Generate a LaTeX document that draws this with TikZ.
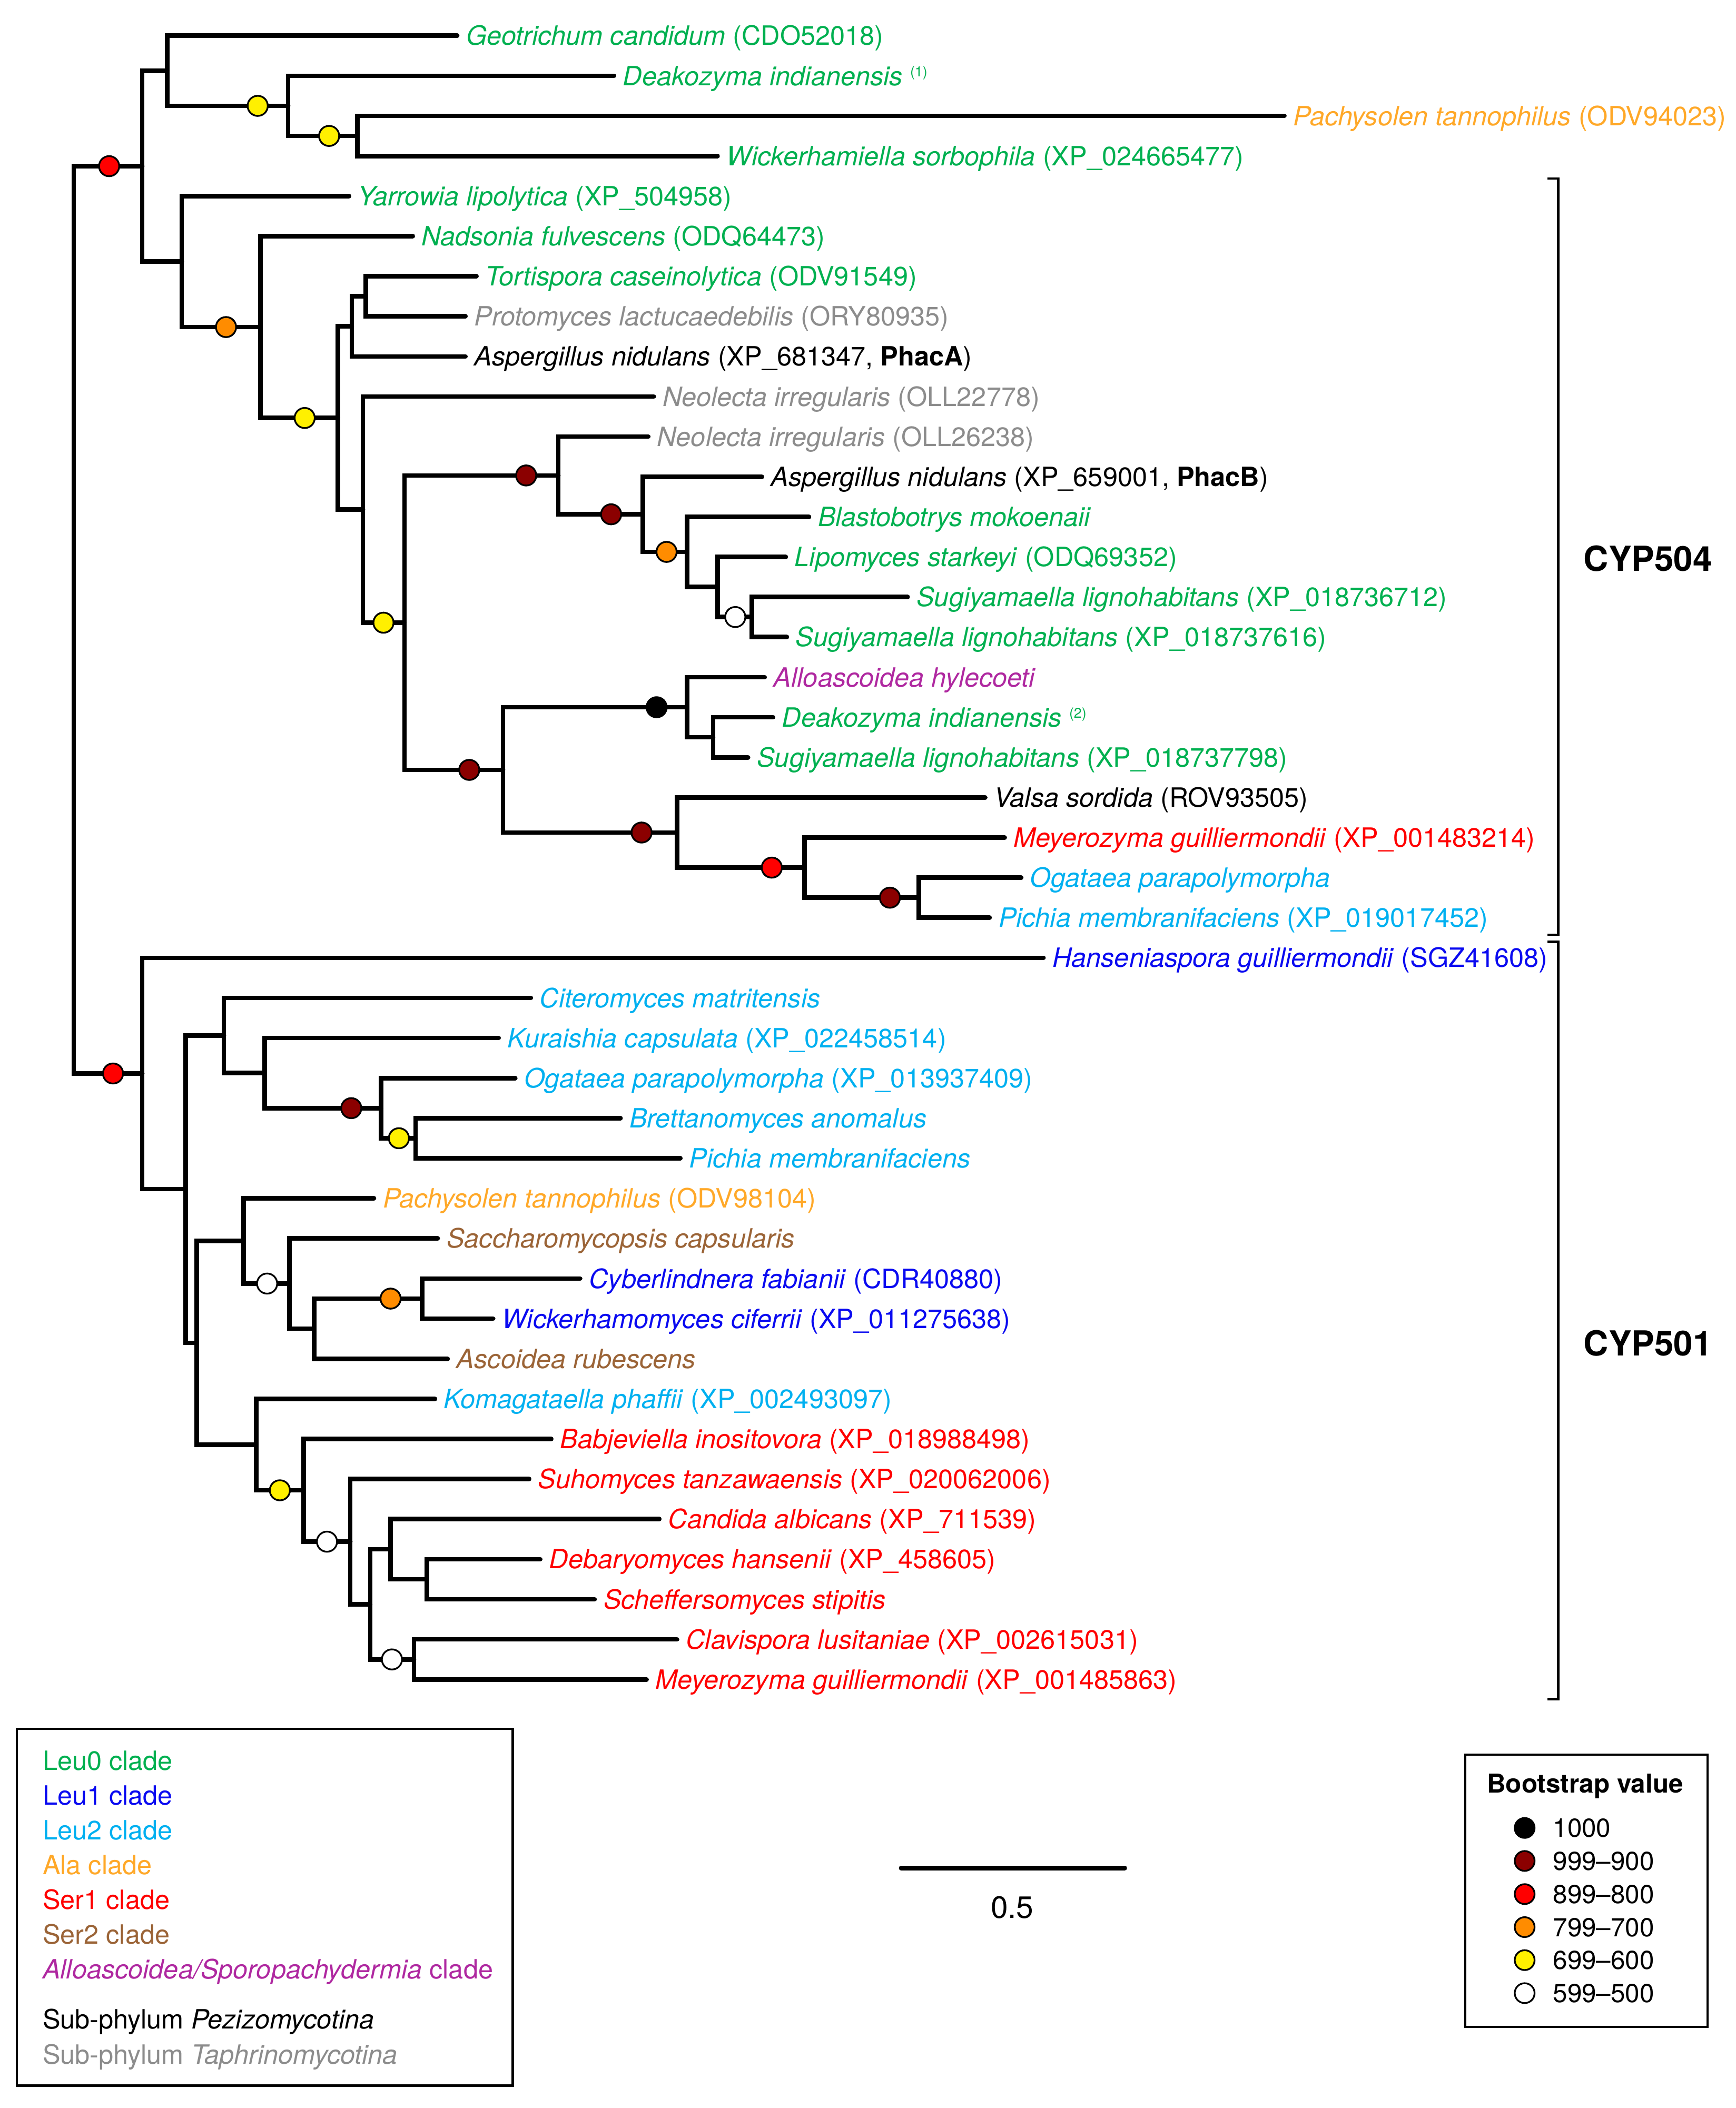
\documentclass[tikz,border=0pt]{standalone}
\usepackage{fontspec}
\setmainfont{TeX Gyre Heros}
\usetikzlibrary{calc}
\definecolor{cgreen}{RGB}{0,176,80}
\definecolor{cblue}{RGB}{10,10,240}
\definecolor{ccyan}{RGB}{0,176,240}
\definecolor{corange}{RGB}{255,168,40}
\definecolor{cred}{RGB}{255,0,0}
\definecolor{cbrown}{RGB}{155,100,55}
\definecolor{cpurple}{RGB}{175,40,160}
\definecolor{cgray}{RGB}{140,140,140}
\definecolor{bdark}{RGB}{139,0,0}
\definecolor{bred}{RGB}{255,0,0}
\definecolor{borange}{RGB}{255,140,0}
\definecolor{byellow}{RGB}{255,240,0}
\newcommand\yl[1]{(26.6+(#1-1)*29.875)}
\newcommand\supn[1]{\raisebox{6.6pt}{\fontsize{10.5}{10.5}\selectfont(#1)}}
\newcommand\leaf[4]{\coordinate (t#1) at (#2,{\yl{#1}});
  \node[lab,text=#3] (n#1) at ([xshift=6.5pt,yshift=-7.1pt]t#1) {#4};}
\begin{document}
\begin{tikzpicture}[x=1pt,y=-1pt,
  br/.style={line width=3.4pt, line cap=round, line join=miter},
  lab/.style={anchor=base west, inner sep=0pt, font=\fontsize{19.8}{22}\selectfont},
  labs/.style={anchor=base west, inner sep=0pt, font=\fontsize{19.4}{22}\selectfont},
  bs/.style={circle, draw=black, line width=1.3pt, minimum size=15pt, inner sep=0pt},
  brk/.style={line width=1.8pt},
  boxn/.style={draw, line width=1.6pt, inner sep=0pt, anchor=north west}]
\useasboundingbox (0,0) rectangle (1293,1570.8);
% ---- internal y positions
\pgfmathsetmacro\ynD{(\yl{3}+\yl{4})/2}
\pgfmathsetmacro\ynC{(\yl{2}+\ynD)/2}
\pgfmathsetmacro\ynB{(\yl{1}+\ynC)/2}
\pgfmathsetmacro\ynI{(\yl{7}+\yl{8})/2}
\pgfmathsetmacro\ynH{(\ynI+\yl{9})/2}
\pgfmathsetmacro\ynP{(\yl{15}+\yl{16})/2}
\pgfmathsetmacro\ynO{(\yl{14}+\ynP)/2}
\pgfmathsetmacro\ynN{(\yl{13}+\ynO)/2}
\pgfmathsetmacro\ynM{(\yl{12}+\ynN)/2}
\pgfmathsetmacro\ynL{(\yl{11}+\ynM)/2}
\pgfmathsetmacro\ynS{(\yl{18}+\yl{19})/2}
\pgfmathsetmacro\ynR{(\yl{17}+\ynS)/2}
\pgfmathsetmacro\ynV{(\yl{22}+\yl{23})/2}
\pgfmathsetmacro\ynU{(\yl{21}+\ynV)/2}
\pgfmathsetmacro\ynT{(\yl{20}+\ynU)/2}
\pgfmathsetmacro\ynQ{(\ynR+\ynT)/2}
\pgfmathsetmacro\ynK{(\ynL+\ynQ)/2}
\pgfmathsetmacro\ynJ{(\yl{10}+\ynK)/2}
\pgfmathsetmacro\ynG{(\ynH+\ynJ)/2}
\pgfmathsetmacro\ynF{(\yl{6}+\ynG)/2}
\pgfmathsetmacro\ynE{(\yl{5}+\ynF)/2}
\pgfmathsetmacro\ynA{(\ynB+\ynE)/2}
\pgfmathsetmacro\ynAB{(\yl{28}+\yl{29})/2}
\pgfmathsetmacro\ynAA{(\yl{27}+\ynAB)/2}
\pgfmathsetmacro\ynZ{(\yl{26}+\ynAA)/2}
\pgfmathsetmacro\ynY{(\yl{25}+\ynZ)/2}
\pgfmathsetmacro\ynAG{(\yl{32}+\yl{33})/2}
\pgfmathsetmacro\ynAF{(\ynAG+\yl{34})/2}
\pgfmathsetmacro\ynAE{(\yl{31}+\ynAF)/2}
\pgfmathsetmacro\ynAD{(\yl{30}+\ynAE)/2}
\pgfmathsetmacro\ynAM{(\yl{39}+\yl{40})/2}
\pgfmathsetmacro\ynAL{(\yl{38}+\ynAM)/2}
\pgfmathsetmacro\ynAN{(\yl{41}+\yl{42})/2}
\pgfmathsetmacro\ynAK{(\ynAL+\ynAN)/2}
\pgfmathsetmacro\ynAJ{(\yl{37}+\ynAK)/2}
\pgfmathsetmacro\ynAI{(\yl{36}+\ynAJ)/2}
\pgfmathsetmacro\ynAH{(\yl{35}+\ynAI)/2}
\pgfmathsetmacro\ynAC{(\ynAD+\ynAH)/2}
\pgfmathsetmacro\ynX{(\ynY+\ynAC)/2}
\pgfmathsetmacro\ynW{(\yl{24}+\ynX)/2}
\pgfmathsetmacro\ynRoot{(\ynA+\ynW)/2}
% ---- internal nodes
\coordinate (R0) at (54.9,\ynRoot);
\coordinate (A) at (106,\ynA);
\coordinate (B) at (124.7,\ynB);
\coordinate (C) at (214.7,\ynC);
\coordinate (D) at (266.3,\ynD);
\coordinate (E) at (135.4,\ynE);
\coordinate (F) at (194,\ynF);
\coordinate (G) at (251.8,\ynG);
\coordinate (H) at (262.1,\ynH);
\coordinate (I) at (272.5,\ynI);
\coordinate (J) at (270.4,\ynJ);
\coordinate (K) at (301.3,\ynK);
\coordinate (L) at (416,\ynL);
\coordinate (M) at (478.8,\ynM);
\coordinate (N) at (511.9,\ynN);
\coordinate (O) at (534.6,\ynO);
\coordinate (P) at (560.2,\ynP);
\coordinate (Q) at (374.8,\ynQ);
\coordinate (R) at (511.9,\ynR);
\coordinate (S) at (531.3,\ynS);
\coordinate (T) at (504.4,\ynT);
\coordinate (U) at (599.4,\ynU);
\coordinate (V) at (684.5,\ynV);
\coordinate (W) at (106,\ynW);
\coordinate (X) at (138.3,\ynX);
\coordinate (Y) at (166.8,\ynY);
\coordinate (Z) at (197.3,\ynZ);
\coordinate (AA) at (284,\ynAA);
\coordinate (AB) at (309.6,\ynAB);
\coordinate (AC) at (146.5,\ynAC);
\coordinate (AD) at (181.6,\ynAD);
\coordinate (AE) at (215.5,\ynAE);
\coordinate (AF) at (234,\ynAF);
\coordinate (AG) at (314.6,\ynAG);
\coordinate (AH) at (191,\ynAH);
\coordinate (AI) at (226.2,\ynAI);
\coordinate (AJ) at (261,\ynAJ);
\coordinate (AK) at (275.8,\ynAK);
\coordinate (AL) at (291,\ynAL);
\coordinate (AM) at (318,\ynAM);
\coordinate (AN) at (308.4,\ynAN);
% ---- leaves
\leaf{1}{340.6}{cgreen}{\textit{Geotrichum candidum} (CDO52018)}
\leaf{2}{457.4}{cgreen}{\textit{Deakozyma indianensis} \supn{1}}
\leaf{3}{956.9}{corange}{\textit{Pachysolen tannophilus} (ODV94023)}
\leaf{4}{534.6}{cgreen}{\textit{Wickerhamiella sorbophila} (XP\_024665477)}
\leaf{5}{260}{cgreen}{\textit{Yarrowia lipolytica} (XP\_504958)}
\leaf{6}{307.5}{cgreen}{\textit{Nadsonia fulvescens} (ODQ64473)}
\leaf{7}{355}{cgreen}{\textit{Tortispora caseinolytica} (ODV91549)}
\leaf{8}{346.8}{cgray}{\textit{Protomyces lactucaedebilis} (ORY80935)}
\leaf{9}{346.8}{black}{\textit{Aspergillus nidulans} (XP\_681347, \textbf{PhacA})}
\leaf{10}{487.1}{cgray}{\textit{Neolecta irregularis} (OLL22778)}
\leaf{11}{483}{cgray}{\textit{Neolecta irregularis} (OLL26238)}
\leaf{12}{567.6}{black}{\textit{Aspergillus nidulans} (XP\_659001, \textbf{PhacB})}
\leaf{13}{602.7}{cgreen}{\textit{Blastobotrys mokoenaii}}
\leaf{14}{585.4}{cgreen}{\textit{Lipomyces starkeyi} (ODQ69352)}
\leaf{15}{676.2}{cgreen}{\textit{Sugiyamaella lignohabitans} (XP\_018736712)}
\leaf{16}{586.2}{cgreen}{\textit{Sugiyamaella lignohabitans} (XP\_018737616)}
\leaf{17}{569.7}{cpurple}{\textit{Alloascoidea hylecoeti}}
\leaf{18}{575.9}{cgreen}{\textit{Deakozyma indianensis} \supn{2}}
\leaf{19}{557.3}{cgreen}{\textit{Sugiyamaella lignohabitans} (XP\_018737798)}
\leaf{20}{734}{black}{\textit{Valsa sordida} (ROV93505)}
\leaf{21}{748.5}{cred}{\textit{Meyerozyma guilliermondii} (XP\_001483214)}
\leaf{22}{760.8}{ccyan}{\textit{Ogataea parapolymorpha}}
\leaf{23}{737.3}{ccyan}{\textit{Pichia membranifaciens} (XP\_019017452)}
\leaf{24}{777.4}{cblue}{\textit{Hanseniaspora guilliermondii} (SGZ41608)}
\leaf{25}{395.5}{ccyan}{\textit{Citeromyces matritensis}}
\leaf{26}{371.5}{ccyan}{\textit{Kuraishia capsulata} (XP\_022458514)}
\leaf{27}{383.9}{ccyan}{\textit{Ogataea parapolymorpha} (XP\_013937409)}
\leaf{28}{462.3}{ccyan}{\textit{Brettanomyces anomalus}}
\leaf{29}{506.9}{ccyan}{\textit{Pichia membranifaciens}}
\leaf{30}{278.6}{corange}{\textit{Pachysolen tannophilus} (ODV98104)}
\leaf{31}{326.1}{cbrown}{\textit{Saccharomycopsis capsularis}}
\leaf{32}{432.2}{cblue}{\textit{Cyberlindnera fabianii} (CDR40880)}
\leaf{33}{367.4}{cblue}{\textit{Wickerhamomyces ciferrii} (XP\_011275638)}
\leaf{34}{333.5}{cbrown}{\textit{Ascoidea rubescens}}
\leaf{35}{324}{ccyan}{\textit{Komagataella phaffii} (XP\_002493097)}
\leaf{36}{410.7}{cred}{\textit{Babjeviella inositovora} (XP\_018988498)}
\leaf{37}{394.2}{cred}{\textit{Suhomyces tanzawaensis} (XP\_020062006)}
\leaf{38}{491.2}{cred}{\textit{Candida albicans} (XP\_711539)}
\leaf{39}{402.5}{cred}{\textit{Debaryomyces hansenii} (XP\_458605)}
\leaf{40}{443}{cred}{\textit{Scheffersomyces stipitis}}
\leaf{41}{504.4}{cred}{\textit{Clavispora lusitaniae} (XP\_002615031)}
\leaf{42}{481.7}{cred}{\textit{Meyerozyma guilliermondii} (XP\_001485863)}
% ---- branches
\draw[br] (R0) |- (A); \draw[br] (R0) |- (W);
\draw[br] (A) |- (B); \draw[br] (A) |- (E);
\draw[br] (B) |- (t1); \draw[br] (B) |- (C);
\draw[br] (C) |- (t2); \draw[br] (C) |- (D);
\draw[br] (D) |- (t3); \draw[br] (D) |- (t4);
\draw[br] (E) |- (t5); \draw[br] (E) |- (F);
\draw[br] (F) |- (t6); \draw[br] (F) |- (G);
\draw[br] (G) |- (H); \draw[br] (G) |- (J);
\draw[br] (H) |- (I); \draw[br] (H) |- (t9);
\draw[br] (I) |- (t7); \draw[br] (I) |- (t8);
\draw[br] (J) |- (t10); \draw[br] (J) |- (K);
\draw[br] (K) |- (L); \draw[br] (K) |- (Q);
\draw[br] (L) |- (t11); \draw[br] (L) |- (M);
\draw[br] (M) |- (t12); \draw[br] (M) |- (N);
\draw[br] (N) |- (t13); \draw[br] (N) |- (O);
\draw[br] (O) |- (t14); \draw[br] (O) |- (P);
\draw[br] (P) |- (t15); \draw[br] (P) |- (t16);
\draw[br] (Q) |- (R); \draw[br] (Q) |- (T);
\draw[br] (R) |- (t17); \draw[br] (R) |- (S);
\draw[br] (S) |- (t18); \draw[br] (S) |- (t19);
\draw[br] (T) |- (t20); \draw[br] (T) |- (U);
\draw[br] (U) |- (t21); \draw[br] (U) |- (V);
\draw[br] (V) |- (t22); \draw[br] (V) |- (t23);
\draw[br] (W) |- (t24); \draw[br] (W) |- (X);
\draw[br] (X) |- (Y); \draw[br] (X) |- (AC);
\draw[br] (Y) |- (t25); \draw[br] (Y) |- (Z);
\draw[br] (Z) |- (t26); \draw[br] (Z) |- (AA);
\draw[br] (AA) |- (t27); \draw[br] (AA) |- (AB);
\draw[br] (AB) |- (t28); \draw[br] (AB) |- (t29);
\draw[br] (AC) |- (AD); \draw[br] (AC) |- (AH);
\draw[br] (AD) |- (t30); \draw[br] (AD) |- (AE);
\draw[br] (AE) |- (t31); \draw[br] (AE) |- (AF);
\draw[br] (AF) |- (AG); \draw[br] (AF) |- (t34);
\draw[br] (AG) |- (t32); \draw[br] (AG) |- (t33);
\draw[br] (AH) |- (t35); \draw[br] (AH) |- (AI);
\draw[br] (AI) |- (t36); \draw[br] (AI) |- (AJ);
\draw[br] (AJ) |- (t37); \draw[br] (AJ) |- (AK);
\draw[br] (AK) |- (AL); \draw[br] (AK) |- (AN);
\draw[br] (AL) |- (t38); \draw[br] (AL) |- (AM);
\draw[br] (AM) |- (t39); \draw[br] (AM) |- (t40);
\draw[br] (AN) |- (t41); \draw[br] (AN) |- (t42);
% ---- bootstrap circles
\node[bs,fill=bred] (cA) at (81.3,\ynA) {};
\node[bs,fill=bred] (cW) at (84.2,\ynW) {};
\node[bs,fill=byellow] (cC) at (192,\ynC) {};
\node[bs,fill=byellow] (cD) at (245.2,\ynD) {};
\node[bs,fill=borange] (cF) at (168.4,\ynF) {};
\node[bs,fill=byellow] (cG) at (227,\ynG) {};
\node[bs,fill=byellow] (cK) at (285.7,\ynK) {};
\node[bs,fill=bdark] (cL) at (392,\ynL) {};
\node[bs,fill=bdark] (cM) at (455.3,\ynM) {};
\node[bs,fill=borange] (cN) at (496.6,\ynN) {};
\node[bs,fill=white] (cP) at (547.8,\ynP) {};
\node[bs,fill=bdark] (cQ) at (349.6,\ynQ) {};
\node[bs,fill=black] (cR) at (489.2,\ynR) {};
\node[bs,fill=bdark] (cT) at (478,\ynT) {};
\node[bs,fill=bred] (cU) at (575,\ynU) {};
\node[bs,fill=bdark] (cV) at (663,\ynV) {};
\node[bs,fill=bdark] (cAA) at (261.7,\ynAA) {};
\node[bs,fill=byellow] (cAB) at (297.2,\ynAB) {};
\node[bs,fill=white] (cAE) at (199,\ynAE) {};
\node[bs,fill=borange] (cAG) at (291,\ynAG) {};
\node[bs,fill=byellow] (cAI) at (208.5,\ynAI) {};
\node[bs,fill=white] (cAJ) at (243.6,\ynAJ) {};
\node[bs,fill=white] (cAN) at (292,\ynAN) {};
% ---- brackets
\coordinate (k1a) at (1153,133); \coordinate (k1b) at (1161,133);
\coordinate (k1c) at (1161,696.5); \coordinate (k1d) at (1153,696.5);
\draw[brk] (k1a) -- (k1b) -- (k1c) -- (k1d);
\coordinate (k2a) at (1153,701.8); \coordinate (k2b) at (1161,701.8);
\coordinate (k2c) at (1161,1266); \coordinate (k2d) at (1153,1266);
\draw[brk] (k2a) -- (k2b) -- (k2c) -- (k2d);
\node[anchor=west, inner sep=0pt, font=\bfseries\fontsize{25.7}{28}\selectfont] (cyp504) at (1179.7,416) {CYP504};
\node[anchor=west, inner sep=0pt, font=\bfseries\fontsize{25.7}{28}\selectfont] (cyp501) at (1179.7,1000.7) {CYP501};
% ---- clade legend
\node[boxn, minimum width=369.6pt, minimum height=265.8pt] (leg1) at (11.6,1287.5) {};
\node[lab,text=cgreen] (lg1) at (31.6,1319.2) {Leu0 clade};
\node[lab,text=cblue] (lg2) at (31.6,1345.05) {Leu1 clade};
\node[lab,text=ccyan] (lg3) at (31.6,1370.9) {Leu2 clade};
\node[lab,text=corange] (lg4) at (31.6,1396.75) {Ala clade};
\node[lab,text=cred] (lg5) at (31.6,1422.6) {Ser1 clade};
\node[lab,text=cbrown] (lg6) at (31.6,1448.45) {Ser2 clade};
\node[lab,text=cpurple] (lg7) at (31.6,1474.3) {\textit{Alloascoidea/Sporopachydermia} clade};
\node[lab,text=black] (lg8) at (31.6,1511.9) {Sub-phylum \textit{Pezizomycotina}};
\node[lab,text=cgray] (lg9) at (31.6,1537.9) {Sub-phylum \textit{Taphrinomycotina}};
% ---- scale bar
\coordinate (sb1) at (671.3,1392); \coordinate (sb2) at (838,1392);
\draw[line width=3.3pt, line cap=round] (sb1) -- (sb2);
\node[anchor=base, inner sep=0pt, font=\fontsize{23}{26}\selectfont] (sbl) at (754.1,1429.5) {0.5};
% ---- bootstrap legend
\node[boxn, line width=1.5pt, minimum width=180.6pt, minimum height=202.7pt] (leg2) at (1090.8,1306.8) {};
\node[anchor=base, inner sep=0pt, font=\bfseries\fontsize{19.4}{22}\selectfont] (bt) at (1180.9,1336) {Bootstrap value};
\node[bs,fill=black,minimum size=14.8pt] (lb1) at (1135.9,1362.1) {};
\node[bs,fill=bdark,minimum size=14.8pt] (lb2) at (1135.9,1386.7) {};
\node[bs,fill=bred,minimum size=14.8pt] (lb3) at (1135.9,1411.4) {};
\node[bs,fill=borange,minimum size=14.8pt] (lb4) at (1135.9,1436.0) {};
\node[bs,fill=byellow,minimum size=14.8pt] (lb5) at (1135.9,1460.6) {};
\node[bs,fill=white,minimum size=14.8pt] (lb6) at (1135.9,1485.2) {};
\node[labs] (lt1) at (1156.8,1369.0) {1000};
\node[labs] (lt2) at (1156.8,1393.6) {999\textendash 900};
\node[labs] (lt3) at (1156.8,1418.3) {899\textendash 800};
\node[labs] (lt4) at (1156.8,1442.9) {799\textendash 700};
\node[labs] (lt5) at (1156.8,1467.5) {699\textendash 600};
\node[labs] (lt6) at (1156.8,1492.1) {599\textendash 500};
\end{tikzpicture}
\end{document}
